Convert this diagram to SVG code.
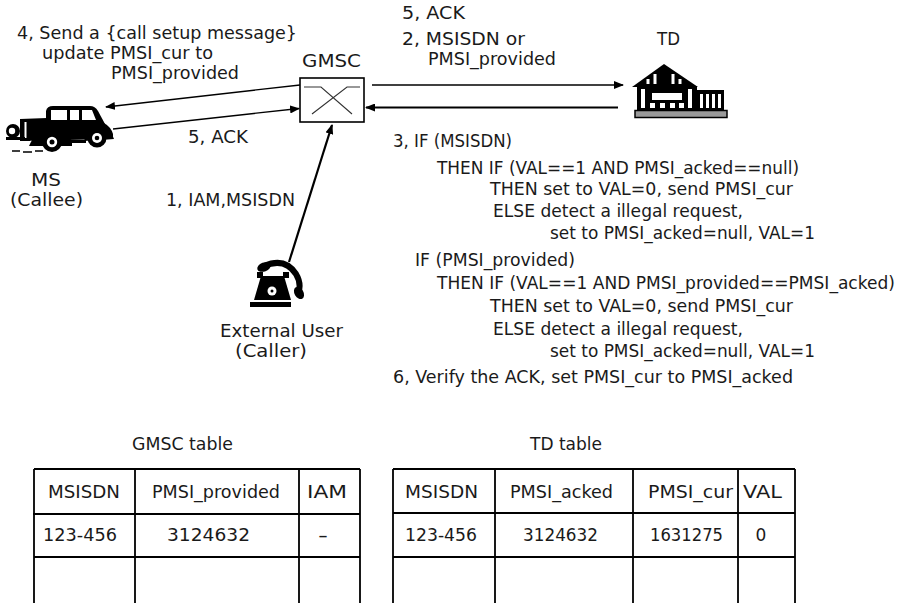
<svg xmlns="http://www.w3.org/2000/svg" width="914" height="603" viewBox="0 0 914 603">
  <style>
    .t { font-family: "DejaVu Sans", "Liberation Sans", sans-serif; font-size: 17px; fill: #1a1a1a; }
    .tc { font-family: "DejaVu Sans", "Liberation Sans", sans-serif; font-size: 17px; fill: #1a1a1a; }
    .wire { stroke: #000; stroke-width: 1.3; fill: none; }
    .wire-b { stroke: #000; stroke-width: 2.2; fill: none; }
    .grid { stroke: #000; stroke-width: 1.8; fill: none; }
    .ink { fill: #000; }
    .paper { fill: #fff; }
  </style>
  <defs>
    <marker id="arrow" markerUnits="userSpaceOnUse" markerWidth="10" markerHeight="8" refX="9" refY="4" orient="auto">
      <path d="M0,0 L10,4 L0,8 Z" fill="#000"/>
    </marker>
  </defs>

  <rect width="914" height="603" fill="#fff"/>

  <!-- Mobile station (vintage car) -->
  <g id="ms">
    <path class="ink" d="M46,122 L46,111 Q47,106 53,106 L90,106 Q95,106 98,111 L105,124 Z"/>
    <path class="ink" d="M20,119 L47,118 L104,123 Q111,127 113,134 L113,139 L20,141 Z"/>
    <path class="ink" d="M29,146 Q36,129 53,129 Q66,130 72,141 L72,146 Z"/>
    <path class="ink" d="M84,141 Q88,126 99,126 Q110,127 114,139 Z"/>
    <rect class="ink" x="60" y="140" width="26" height="3"/>
    <rect class="paper" x="51" y="110" width="16" height="10"/>
    <rect class="paper" x="70" y="110" width="9" height="10"/>
    <path class="paper" d="M82,110 L92,110 L96,120 L82,120 Z"/>
    <rect class="ink" x="21" y="119" width="9" height="22"/>
    <rect class="paper" x="24.5" y="122" width="2" height="16"/>
    <circle class="ink" cx="13" cy="131" r="7"/>
    <circle class="paper" cx="12" cy="131" r="3.2"/>
    <rect class="ink" x="6" y="137" width="19" height="3"/>
    <circle class="ink" cx="52" cy="142" r="10"/>
    <circle class="paper" cx="52" cy="142" r="5.2"/>
    <circle class="ink" cx="52" cy="142" r="2.5"/>
    <circle class="ink" cx="97" cy="138" r="9.5"/>
    <circle class="paper" cx="97" cy="138" r="5"/>
    <circle class="ink" cx="97" cy="138" r="2.3"/>
    <path d="M12,151 L20,151 M23,152 L32,152 M35,151 L43,151" stroke="#000" stroke-width="1.5"/>
    <text class="t" x="31" y="186" textLength="30" lengthAdjust="spacingAndGlyphs">MS</text>
    <text class="t" x="10" y="206" textLength="73" lengthAdjust="spacingAndGlyphs">(Callee)</text>
  </g>

  <!-- Gateway MSC (switch box) -->
  <g id="gmsc">
    <text class="t" x="302" y="67" textLength="59" lengthAdjust="spacingAndGlyphs">GMSC</text>
    <rect x="300" y="78" width="64" height="44" fill="#fff" stroke="#000" stroke-width="1.6"/>
    <path d="M304,87 L321,87 L352,114 M360,87 L347,87 L312,114" stroke="#333" stroke-width="1.1" fill="none"/>
  </g>

  <!-- Trusted domain (building) -->
  <g id="td">
    <text class="t" x="657" y="45" textLength="23" lengthAdjust="spacingAndGlyphs">TD</text>
    <polygon class="ink" points="632,87 664,64 698,87"/>
    <path d="M648,84 L648,79 M655,84 L655,74 M673,84 L673,74 M680,84 L680,79" stroke="#fff" stroke-width="3"/>
    <rect class="ink" x="637" y="86" width="60" height="25"/>
    <rect class="paper" x="652" y="93" width="30" height="7"/>
    <rect class="paper" x="641" y="89" width="4" height="19"/>
    <rect class="paper" x="688" y="89" width="4" height="19"/>
    <rect class="paper" x="650" y="103" width="5" height="5"/>
    <rect class="paper" x="660" y="103" width="5" height="5"/>
    <rect class="paper" x="670" y="103" width="5" height="5"/>
    <rect class="paper" x="679" y="103" width="5" height="5"/>
    <rect class="ink" x="696" y="90" width="28" height="21"/>
    <rect class="paper" x="700" y="94" width="3" height="14"/>
    <rect class="paper" x="706" y="94" width="3" height="14"/>
    <rect class="paper" x="712" y="94" width="3" height="14"/>
    <rect class="paper" x="718" y="94" width="3" height="14"/>
    <rect x="635" y="110.5" width="92" height="7" fill="#9a9a9a" stroke="#000" stroke-width="1.5"/>
  </g>

  <!-- External user (telephone) -->
  <g id="ext-user">
    <rect class="ink" x="250" y="302" width="41" height="5"/>
    <path class="ink" d="M261,276 L284,276 L291,300 L254,300 Z"/>
    <rect class="ink" x="257" y="272" width="6" height="6"/>
    <rect class="ink" x="283" y="272" width="6" height="6"/>
    <circle class="paper" cx="272" cy="291" r="4.5"/>
    <circle class="ink" cx="272" cy="291" r="1.5"/>
    <path d="M264,266 Q285,257 296,274 Q302,284 298,294" stroke="#000" stroke-width="6" fill="none"/>
    <ellipse class="ink" cx="264" cy="267" rx="7" ry="4.5" transform="rotate(-20 264 267)"/>
    <ellipse class="ink" cx="299" cy="293" rx="4.5" ry="6.5" transform="rotate(-30 299 293)"/>
    <text class="t" x="220" y="337" textLength="123" lengthAdjust="spacingAndGlyphs">External User</text>
    <text class="t" x="235" y="357" textLength="72" lengthAdjust="spacingAndGlyphs">(Caller)</text>
  </g>

  <!-- Message flows -->
  <g id="connectors">
    <line class="wire" x1="300" y1="85" x2="106" y2="107" marker-end="url(#arrow)"/>
    <line class="wire" x1="113" y1="129" x2="299" y2="108.5" marker-end="url(#arrow)"/>
    <line class="wire" x1="372" y1="85" x2="623" y2="85" marker-end="url(#arrow)"/>
    <line class="wire-b" x1="618" y1="107.5" x2="366" y2="107.5" marker-end="url(#arrow)"/>
    <line class="wire-b" x1="289" y1="262" x2="332" y2="125" marker-end="url(#arrow)"/>
  </g>

  <!-- Flow labels -->
  <g id="labels">
    <text class="t" x="17" y="39" textLength="280" lengthAdjust="spacingAndGlyphs">4, Send a {call setup message}</text>
    <text class="t" x="42" y="59" textLength="171" lengthAdjust="spacingAndGlyphs">update PMSI_cur to</text>
    <text class="t" x="111" y="79" textLength="128" lengthAdjust="spacingAndGlyphs">PMSI_provided</text>
    <text class="t" x="188" y="143" textLength="60" lengthAdjust="spacingAndGlyphs">5, ACK</text>
    <text class="t" x="166" y="206" textLength="129" lengthAdjust="spacingAndGlyphs">1, IAM,MSISDN</text>
    <text class="t" x="402" y="19" textLength="63" lengthAdjust="spacingAndGlyphs">5, ACK</text>
    <text class="t" x="402" y="45" textLength="123" lengthAdjust="spacingAndGlyphs">2, MSISDN or</text>
    <text class="t" x="428" y="65" textLength="128" lengthAdjust="spacingAndGlyphs">PMSI_provided</text>
  </g>

  <!-- TD verification logic -->
  <g id="td-logic">
    <text class="t" x="393" y="147" textLength="119" lengthAdjust="spacingAndGlyphs">3, IF (MSISDN)</text>
    <text class="t" x="437" y="174" textLength="362" lengthAdjust="spacingAndGlyphs">THEN IF (VAL==1 AND PMSI_acked==null)</text>
    <text class="t" x="490" y="195" textLength="303" lengthAdjust="spacingAndGlyphs">THEN set to VAL=0, send PMSI_cur</text>
    <text class="t" x="493" y="217" textLength="250" lengthAdjust="spacingAndGlyphs">ELSE detect a illegal request,</text>
    <text class="t" x="550" y="239" textLength="265" lengthAdjust="spacingAndGlyphs">set to PMSI_acked=null, VAL=1</text>
    <text class="t" x="415" y="266" textLength="160" lengthAdjust="spacingAndGlyphs">IF (PMSI_provided)</text>
    <text class="t" x="437" y="289" textLength="458" lengthAdjust="spacingAndGlyphs">THEN IF (VAL==1 AND PMSI_provided==PMSI_acked)</text>
    <text class="t" x="490" y="312" textLength="303" lengthAdjust="spacingAndGlyphs">THEN set to VAL=0, send PMSI_cur</text>
    <text class="t" x="493" y="335" textLength="250" lengthAdjust="spacingAndGlyphs">ELSE detect a illegal request,</text>
    <text class="t" x="550" y="357" textLength="265" lengthAdjust="spacingAndGlyphs">set to PMSI_acked=null, VAL=1</text>
    <text class="t" x="393" y="383" textLength="400" lengthAdjust="spacingAndGlyphs">6, Verify the ACK, set PMSI_cur to PMSI_acked</text>
  </g>

  <!-- GMSC table -->
  <g id="gmsc-table">
    <text class="tc" x="132" y="450" textLength="101" lengthAdjust="spacingAndGlyphs">GMSC table</text>
    <path class="grid" d="M34,469 L360,469 M33,514 L360,514 M34,557 L360,557 M34,469 L34,603 M135,469 L135,603 M299,469 L299,603 M360,469 L360,603"/>
    <text class="tc" x="48" y="498" textLength="72" lengthAdjust="spacingAndGlyphs">MSISDN</text>
    <text class="tc" x="152" y="498" textLength="128" lengthAdjust="spacingAndGlyphs">PMSI_provided</text>
    <text class="tc" x="307" y="498" textLength="40" lengthAdjust="spacingAndGlyphs">IAM</text>
    <text class="tc" x="43" y="541" textLength="74" lengthAdjust="spacingAndGlyphs">123-456</text>
    <text class="tc" x="167" y="541" textLength="83" lengthAdjust="spacingAndGlyphs">3124632</text>
    <text class="tc" x="318" y="541" textLength="10" lengthAdjust="spacingAndGlyphs">-</text>
  </g>

  <!-- TD table -->
  <g id="td-table">
    <text class="tc" x="530" y="450" textLength="72" lengthAdjust="spacingAndGlyphs">TD table</text>
    <path class="grid" d="M393,469 L795,469 M393,513 L795,513 M393,557 L795,557 M393,469 L393,603 M495,469 L495,603 M633,469 L633,603 M738,469 L738,603 M795,469 L795,603"/>
    <text class="tc" x="405" y="498" textLength="73" lengthAdjust="spacingAndGlyphs">MSISDN</text>
    <text class="tc" x="510" y="498" textLength="103" lengthAdjust="spacingAndGlyphs">PMSI_acked</text>
    <text class="tc" x="648" y="498" textLength="85" lengthAdjust="spacingAndGlyphs">PMSI_cur</text>
    <text class="tc" x="743" y="498" textLength="39" lengthAdjust="spacingAndGlyphs">VAL</text>
    <text class="tc" x="405" y="541" textLength="72" lengthAdjust="spacingAndGlyphs">123-456</text>
    <text class="tc" x="523" y="541" textLength="75" lengthAdjust="spacingAndGlyphs">3124632</text>
    <text class="tc" x="650" y="541" textLength="73" lengthAdjust="spacingAndGlyphs">1631275</text>
    <text class="tc" x="761" y="541" text-anchor="middle">0</text>
  </g>
</svg>
